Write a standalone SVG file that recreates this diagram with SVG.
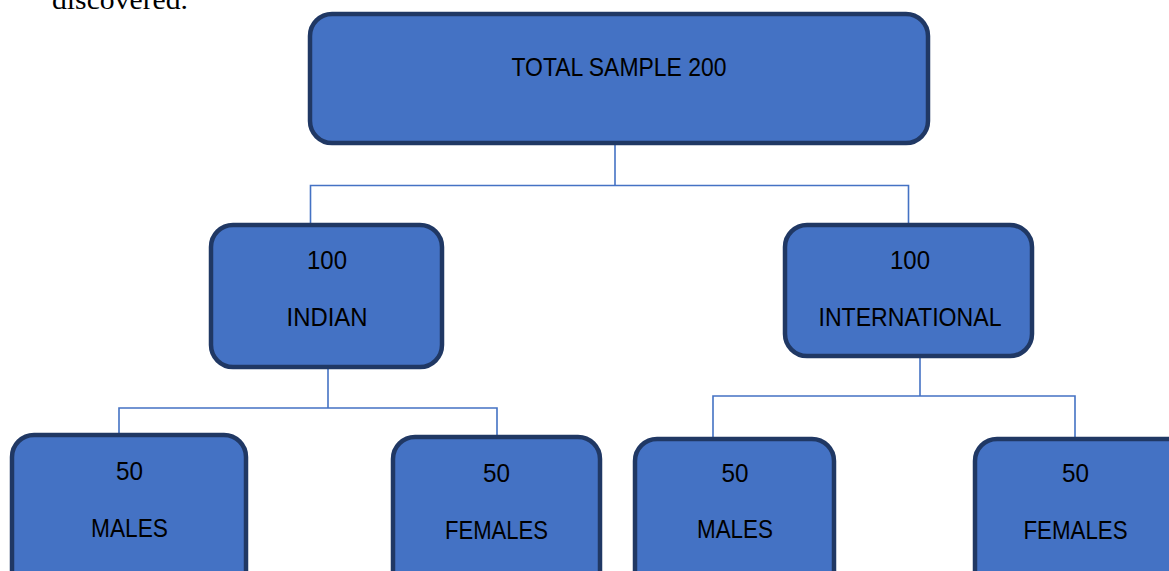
<svg xmlns="http://www.w3.org/2000/svg" width="1169" height="571" viewBox="0 0 1169 571">
<style>
.box{fill:#4472C4;stroke:#203864;stroke-width:4.5}
.lbl{font-family:"Liberation Sans",Arial,sans-serif;font-size:26px;fill:#000;text-anchor:middle}
.con{fill:none;stroke:#4472C4;stroke-width:1.6}
.body{font-family:"Liberation Serif","Times New Roman",serif;font-size:28px;fill:#000}
</style>
<rect width="1169" height="571" fill="#fff"/>
<text class="body" x="52" y="9" textLength="136" lengthAdjust="spacingAndGlyphs">discovered.</text>
<g id="connectors">
<polyline class="con" points="615,143 615,185.5"/>
<polyline class="con" points="310.5,225 310.5,185.5 908.5,185.5 908.5,225"/>
<polyline class="con" points="328,367 328,408"/>
<polyline class="con" points="119,435 119,408 497,408 497,437"/>
<polyline class="con" points="920,356 920,396"/>
<polyline class="con" points="713,439 713,396 1075,396 1075,439"/>
</g>
<g id="total">
<rect class="box" x="310" y="14" width="618" height="129" rx="22"/>
<text class="lbl" x="619" y="76" textLength="215" lengthAdjust="spacingAndGlyphs">TOTAL SAMPLE 200</text>
</g>
<g id="indian">
<rect class="box" x="211" y="225" width="231" height="142" rx="22"/>
<text class="lbl" x="327" y="269" textLength="40" lengthAdjust="spacingAndGlyphs">100</text>
<text class="lbl" x="327" y="326" textLength="81" lengthAdjust="spacingAndGlyphs">INDIAN</text>
</g>
<g id="international">
<rect class="box" x="785" y="225" width="247" height="131" rx="22"/>
<text class="lbl" x="910" y="269" textLength="40" lengthAdjust="spacingAndGlyphs">100</text>
<text class="lbl" x="910" y="326" textLength="183" lengthAdjust="spacingAndGlyphs">INTERNATIONAL</text>
</g>
<g id="indian-males">
<rect class="box" x="12" y="435" width="234" height="160" rx="22"/>
<text class="lbl" x="129.5" y="480" textLength="27" lengthAdjust="spacingAndGlyphs">50</text>
<text class="lbl" x="129.5" y="537" textLength="77" lengthAdjust="spacingAndGlyphs">MALES</text>
</g>
<g id="indian-females">
<rect class="box" x="393" y="437" width="207" height="160" rx="22"/>
<text class="lbl" x="496.5" y="482" textLength="27" lengthAdjust="spacingAndGlyphs">50</text>
<text class="lbl" x="496.5" y="539" textLength="103" lengthAdjust="spacingAndGlyphs">FEMALES</text>
</g>
<g id="intl-males">
<rect class="box" x="635" y="439" width="199" height="160" rx="22"/>
<text class="lbl" x="735" y="482" textLength="27" lengthAdjust="spacingAndGlyphs">50</text>
<text class="lbl" x="735" y="538" textLength="76" lengthAdjust="spacingAndGlyphs">MALES</text>
</g>
<g id="intl-females">
<rect class="box" x="975" y="439" width="220" height="160" rx="22"/>
<text class="lbl" x="1075.5" y="482" textLength="27" lengthAdjust="spacingAndGlyphs">50</text>
<text class="lbl" x="1075.5" y="539" textLength="104" lengthAdjust="spacingAndGlyphs">FEMALES</text>
</g>
</svg>
